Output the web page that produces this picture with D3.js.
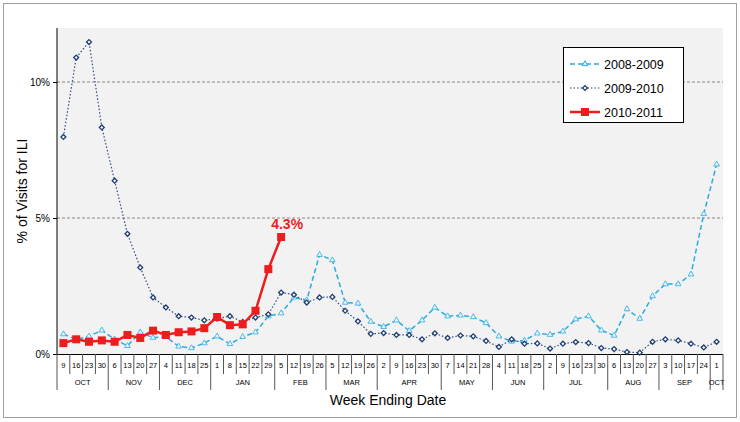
<!DOCTYPE html><html><head><meta charset="utf-8"><script src="https://cdn.jsdelivr.net/npm/d3@7"></script>
<style>body{margin:0;background:#fff}svg{font-family:Arial,"Liberation Sans",sans-serif}</style></head><body><svg id="c" width="740" height="422"></svg><script>
const weekDays=[9,16,23,30,6,13,20,27,4,11,18,25,1,8,15,22,29,5,12,19,26,5,12,19,26,2,9,16,23,30,7,14,21,28,4,11,18,25,2,9,16,23,30,6,13,20,27,3,10,17,24,1];
const months=[["OCT",4],["NOV",4],["DEC",4],["JAN",5],["FEB",4],["MAR",4],["APR",5],["MAY",4],["JUN",4],["JUL",5],["AUG",4],["SEP",4],["OCT",1]];
const s0809=[0.73,0.54,0.65,0.87,0.54,0.3,0.8,0.6,0.63,0.28,0.22,0.4,0.65,0.37,0.63,0.8,1.39,1.5,2.08,1.98,3.65,3.45,1.89,1.86,1.19,1.0,1.24,0.85,1.24,1.71,1.39,1.42,1.36,1.14,0.65,0.46,0.5,0.76,0.71,0.83,1.28,1.39,0.87,0.68,1.65,1.3,2.13,2.57,2.57,2.93,5.15,6.97];
const s0910=[7.98,10.9,11.47,8.33,6.37,4.42,3.18,2.08,1.71,1.39,1.34,1.24,1.3,1.39,1.18,1.34,1.46,2.26,2.18,1.89,2.08,2.1,1.59,1.2,0.74,0.77,0.7,0.7,0.54,0.76,0.59,0.68,0.65,0.48,0.26,0.54,0.38,0.39,0.2,0.38,0.44,0.4,0.22,0.18,0.07,0.05,0.45,0.54,0.5,0.38,0.24,0.45];
const s1011=[0.4,0.54,0.45,0.5,0.45,0.7,0.59,0.86,0.7,0.8,0.83,0.95,1.36,1.06,1.09,1.59,3.12,4.3];
const yTicks=[0,5,10];
const svg=d3.select("#c");
const L=57,R=723,T=28,B=354;
svg.append("rect").attr("x",3.5).attr("y",3.5).attr("width",733).attr("height",414).attr("fill","#fff").attr("stroke","#a0a0a0");
svg.append("rect").attr("x",L).attr("y",T).attr("width",R-L).attr("height",B-T).attr("fill","#f2f2f2");
const x=d3.scaleBand().domain(d3.range(weekDays.length)).range([L,R]);
const cx=i=>x(i)+x.bandwidth()/2;
const y=d3.scaleLinear().domain([0,10]).range([B,82]);
svg.selectAll(".g").data(yTicks.filter(d=>d>0)).join("line").attr("x1",L).attr("x2",R).attr("y1",d=>y(d)).attr("y2",d=>y(d)).attr("stroke","#888").attr("stroke-dasharray","3,2");
const ya=svg.append("g").attr("transform",`translate(${L},0)`).call(d3.axisLeft(y).tickValues(yTicks).tickFormat(d=>d+"%").tickSize(4));
ya.select(".domain").attr("d",`M0,${T}V${B}`).attr("stroke","#000");
ya.selectAll("text").attr("font-size",10).attr("font-family","Arial");
const g=svg.append("g");
g.append("line").attr("x1",L).attr("x2",R).attr("y1",B+0.5).attr("y2",B+0.5).attr("stroke","#000");
weekDays.forEach((d,i)=>{
 g.append("text").attr("x",cx(i)).attr("y",368).attr("text-anchor","middle").attr("font-size",7.5).text(d);
 g.append("line").attr("x1",x(i)+x.bandwidth()).attr("x2",x(i)+x.bandwidth()).attr("y1",B).attr("y2",374).attr("stroke","#555");
});
g.append("line").attr("x1",L).attr("x2",L).attr("y1",B).attr("y2",390).attr("stroke","#555");
let k=0;
months.forEach(([m,n])=>{
 const a=x(k),b=x(k+n-1)+x.bandwidth();
 g.append("text").attr("x",(a+b)/2).attr("y",385).attr("text-anchor","middle").attr("font-size",7.5).text(m);
 g.append("line").attr("x1",b).attr("x2",b).attr("y1",374).attr("y2",390).attr("stroke","#555");
 k+=n;
});
svg.append("text").attr("x",388).attr("y",405).attr("text-anchor","middle").attr("font-size",14).text("Week Ending Date");
svg.append("text").attr("transform","translate(27,191) rotate(-90)").attr("text-anchor","middle").attr("font-size",14).text("% of Visits for ILI");
const line=d3.line().x((d,i)=>cx(i)).y(d=>y(d));
svg.append("path").datum(s0809).attr("d",line).attr("fill","none").attr("stroke","#29abe2").attr("stroke-width",1.5).attr("stroke-dasharray","5,3");
svg.selectAll(".t").data(s0809).join("path").attr("transform",(d,i)=>`translate(${cx(i)},${y(d)})`).attr("d",d3.symbol(d3.symbolTriangle,14)).attr("fill","#e8f6fc").attr("stroke","#29abe2").attr("stroke-width",0.8);
svg.append("path").datum(s0910).attr("d",line).attr("fill","none").attr("stroke","#2f4d7e").attr("stroke-width",1.2).attr("stroke-dasharray","1.5,2");
svg.selectAll(".dd").data(s0910).join("path").attr("transform",(d,i)=>`translate(${cx(i)},${y(d)}) rotate(45)`).attr("d",d3.symbol(d3.symbolSquare,12)).attr("fill","#fff").attr("stroke","#1f3d70").attr("stroke-width",1.3);
svg.append("path").datum(s1011).attr("d",line).attr("fill","none").attr("stroke","#ee1c1c").attr("stroke-width",2.5);
svg.selectAll(".r").data(s1011).join("rect").attr("x",(d,i)=>cx(i)-4).attr("y",d=>y(d)-4).attr("width",8).attr("height",8).attr("fill","#ee1c1c");
svg.append("text").attr("x",cx(17)+6).attr("y",y(4.3)-8).attr("text-anchor","middle").attr("font-size",14).attr("font-weight","bold").attr("fill","#ee1c1c").text("4.3%");
const lg=svg.append("g");
lg.append("rect").attr("x",563.5).attr("y",47.5).attr("width",120).attr("height",75).attr("fill","#fff").attr("stroke","#000");
const items=[["2008-2009","#29abe2","5,3",1.5],["2009-2010","#2f4d7e","1.5,2",1.2],["2010-2011","#ee1c1c",null,2.5]];
items.forEach(([t,c,da,w],i)=>{
 const yy=64+i*24;
 lg.append("line").attr("x1",570).attr("x2",600).attr("y1",yy).attr("y2",yy).attr("stroke",c).attr("stroke-width",w).attr("stroke-dasharray",da);
 lg.append("text").attr("x",604).attr("y",yy+4.5).attr("font-size",12.5).text(t);
});
lg.append("path").attr("transform","translate(585,64)").attr("d",d3.symbol(d3.symbolTriangle,14)).attr("fill","#e8f6fc").attr("stroke","#29abe2");
lg.append("path").attr("transform","translate(585,88) rotate(45)").attr("d",d3.symbol(d3.symbolSquare,12)).attr("fill","#fff").attr("stroke","#1f3d70").attr("stroke-width",1.3);
lg.append("rect").attr("x",581).attr("y",108).attr("width",8).attr("height",8).attr("fill","#ee1c1c");
</script></body></html>
